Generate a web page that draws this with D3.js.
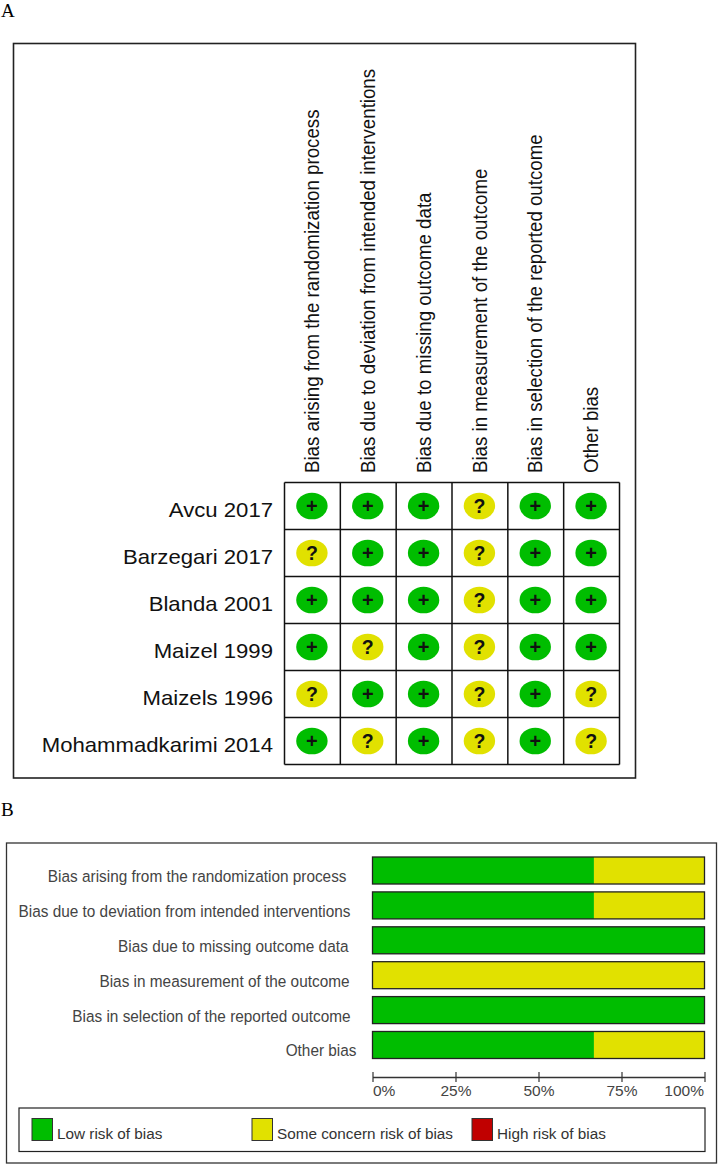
<!DOCTYPE html>
<html lang="en">
<head>
  <meta charset="UTF-8" />
  <title>Risk of bias</title>
  <style>
    html, body { margin: 0; padding: 0; background: #fff; }
    svg { display: block; }
    text { font-family: "Liberation Sans", Arial, sans-serif; }
  </style>
</head>
<body>
  <svg id="chart" width="718" height="1165"></svg>

  <script src="https://d3js.org/d3.v7.min.js"></script>
  <script>
    const domains = [
      "Bias arising from the randomization process",
      "Bias due to deviation from intended interventions",
      "Bias due to missing outcome data",
      "Bias in measurement of the outcome",
      "Bias in selection of the reported outcome",
      "Other bias"
    ];
    const studies = ["Avcu 2017", "Barzegari 2017", "Blanda 2001", "Maizel 1999", "Maizels 1996", "Mohammadkarimi 2014"];

    // one row per study, one letter per domain: L = low, S = some concern
    const ratings = [
      ["L", "L", "L", "S", "L", "L"],
      ["S", "L", "L", "S", "L", "L"],
      ["L", "L", "L", "S", "L", "L"],
      ["L", "S", "L", "S", "L", "L"],
      ["S", "L", "L", "S", "L", "S"],
      ["L", "S", "L", "S", "L", "S"]
    ];

    // percent of studies per domain, panel B
    const lowRisk = [66.7, 66.7, 100, 0, 100, 66.7];
    const someConcern = [33.3, 33.3, 0, 100, 0, 33.3];
    const ticks = [0, 25, 50, 75, 100];
    const legendLabels = ["Low risk of bias", "Some concern risk of bias", "High risk of bias"];

    const GREEN = "#00bd00", YELLOW = "#e1e100", RED = "#c00000";

    const svg = d3.select("#chart");

    function box(x, y, w, h, stroke, sw) {
      svg.append("rect")
        .attr("x", x).attr("y", y).attr("width", w).attr("height", h)
        .attr("fill", "none").attr("stroke", stroke).attr("stroke-width", sw);
    }

    // panel letters
    svg.append("text").attr("x", 1).attr("y", 17).text("A")
      .style("font-family", "Liberation Serif").style("font-size", "19px");
    svg.append("text").attr("x", 1).attr("y", 816).text("B")
      .style("font-family", "Liberation Serif").style("font-size", "19px");

    // panel A
    box(13.5, 43.5, 622, 734.5, "#222", 1.6);

    const xCol = d3.scaleBand().domain(d3.range(domains.length)).range([284.5, 619.5]);
    const yRow = d3.scaleBand().domain(d3.range(studies.length)).range([482.5, 764.5]);

    const gridA = svg.append("g");
    gridA.selectAll("line.v")
      .data(d3.range(domains.length + 1))
      .join("line")
      .attr("class", "v")
      .attr("x1", d => 284.5 + d * xCol.bandwidth()).attr("x2", d => 284.5 + d * xCol.bandwidth())
      .attr("y1", 482.5).attr("y2", 764.5)
      .attr("stroke", "#111").attr("stroke-width", 1.5);
    gridA.selectAll("line.h")
      .data(d3.range(studies.length + 1))
      .join("line")
      .attr("class", "h")
      .attr("x1", 284.5).attr("x2", 619.5)
      .attr("y1", d => 482.5 + d * yRow.bandwidth()).attr("y2", d => 482.5 + d * yRow.bandwidth())
      .attr("stroke", "#111").attr("stroke-width", 1.5);

    // column headers, squeezed a bit like the original figure
    svg.selectAll("text.col")
      .data(domains)
      .join("text")
      .attr("class", "col")
      .attr("transform", (d, i) => `translate(${xCol(i) + 34.5},473) rotate(-90) scale(0.912,1)`)
      .attr("fill", "#111")
      .style("font-size", "20.5px")
      .text(d => d);

    // study labels, stretched a little wider
    svg.selectAll("text.study")
      .data(studies)
      .join("text")
      .attr("class", "study")
      .attr("transform", (d, i) => `translate(273,${yRow(i) + 34}) scale(1.08,1)`)
      .attr("text-anchor", "end")
      .attr("fill", "#111")
      .style("font-size", "20.5px")
      .text(d => d);

    // rating cells
    const cells = ratings.flatMap((row, r) => row.map((v, c) => ({ r, c, v })));
    const cell = svg.selectAll("g.cell")
      .data(cells)
      .join("g")
      .attr("class", "cell")
      .attr("transform", d => `translate(${xCol(d.c) + xCol.bandwidth() / 2 - 0.5},${yRow(d.r) + 23.5})`);
    cell.append("ellipse")
      .attr("rx", 15.7).attr("ry", 13.3)
      .attr("fill", d => d.v === "L" ? GREEN : YELLOW);
    cell.append("text")
      .attr("text-anchor", "middle")
      .attr("y", d => d.v === "L" ? 6.5 : 7)
      .attr("fill", "#111")
      .style("font-weight", "bold")
      .style("font-size", d => d.v === "L" ? "20px" : "19.5px")
      .text(d => d.v === "L" ? "+" : "?");

    // panel B
    box(6.5, 843, 710, 320, "#333", 1.3);

    const x = d3.scaleLinear().domain([0, 100]).range([372.5, 704.5]);
    const yBar = d3.scaleBand().domain(d3.range(domains.length)).range([857, 1058.5]).paddingInner(0.226).paddingOuter(0);

    const bars = svg.selectAll("g.bar")
      .data(domains.map((d, i) => i))
      .join("g")
      .attr("class", "bar");
    bars.append("rect")
      .attr("x", x(0)).attr("y", i => yBar(i))
      .attr("width", i => x(lowRisk[i]) - x(0)).attr("height", yBar.bandwidth())
      .attr("fill", GREEN);
    bars.append("rect")
      .attr("x", i => x(lowRisk[i])).attr("y", i => yBar(i))
      .attr("width", i => x(lowRisk[i] + someConcern[i]) - x(lowRisk[i])).attr("height", yBar.bandwidth())
      .attr("fill", YELLOW);
    bars.append("rect")
      .attr("x", x(0)).attr("y", i => yBar(i))
      .attr("width", x(100) - x(0)).attr("height", yBar.bandwidth())
      .attr("fill", "none").attr("stroke", "#222").attr("stroke-width", 1.3);

    // labels in the original do not share one right edge
    const labelRight = [346.5, 350.5, 348.5, 349.5, 350.5, 356.5];
    svg.selectAll("text.dom")
      .data(domains)
      .join("text")
      .attr("class", "dom")
      .attr("transform", (d, i) => `translate(${labelRight[i]},${yBar(i) + 25}) scale(0.904,1)`)
      .attr("text-anchor", "end")
      .attr("fill", "#444")
      .style("font-size", "17px")
      .text(d => d);

    const axis = svg.append("g")
      .attr("transform", "translate(0,1077)")
      .call(d3.axisBottom(x).tickValues(ticks).tickFormat(d => d + "%").tickSize(5).tickSizeOuter(0));
    axis.select(".domain").attr("stroke", "#333").attr("stroke-width", 1.3);
    axis.selectAll(".tick line").attr("y1", -5).attr("y2", 5).attr("stroke", "#333").attr("stroke-width", 1.2);
    axis.selectAll(".tick text")
      .attr("y", 19).attr("dy", 0)
      .attr("x", d => d === 100 ? -1 : 0)
      .attr("fill", "#444")
      .style("font-family", "Liberation Sans")
      .style("font-size", "15.5px")
      .attr("text-anchor", d => d === 0 ? "start" : d === 100 ? "end" : "middle");

    // legend
    box(19, 1108, 686, 43.5, "#222", 1.2);
    const legendX = [32, 252, 472];
    const legendColors = [GREEN, YELLOW, RED];
    const legend = svg.selectAll("g.legend")
      .data(legendLabels)
      .join("g")
      .attr("class", "legend")
      .attr("transform", (d, i) => `translate(${legendX[i]},1118.5)`);
    legend.append("rect")
      .attr("width", 20.5).attr("height", 22)
      .attr("fill", (d, i) => legendColors[i])
      .attr("stroke", "#333").attr("stroke-width", 1);
    legend.append("text")
      .attr("x", 25).attr("y", 20.5)
      .attr("fill", "#333")
      .style("font-size", "15.3px")
      .text(d => d);
  </script>
</body>
</html>
